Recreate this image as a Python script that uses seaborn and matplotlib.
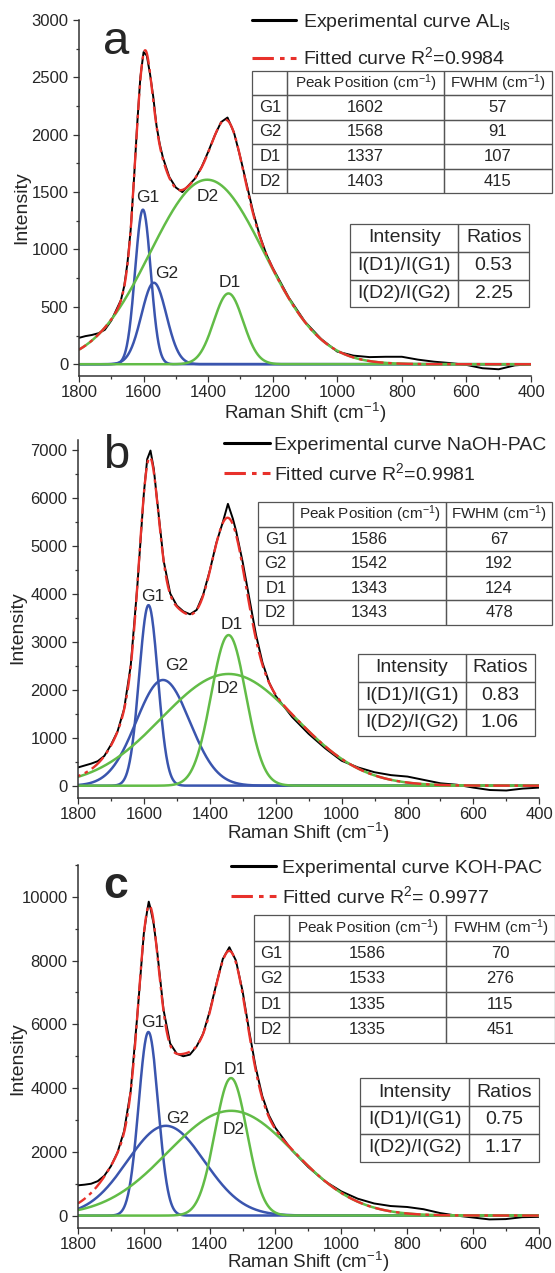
import numpy as np
import seaborn as sns
import matplotlib.pyplot as plt
from matplotlib.lines import Line2D
from matplotlib.ticker import MultipleLocator

W, H = 555, 1273

peak_names = ['G1', 'G2', 'D1', 'D2']
ratio_names = ['I(D1)/I(G1)', 'I(D2)/I(G2)']

# (a) AL_ls
a_shift = [1800, 1780, 1760, 1740, 1720, 1700, 1690, 1680, 1670, 1660, 1650, 1640, 1630, 1620, 1610,
           1600, 1590, 1580, 1570, 1560, 1550, 1540, 1520, 1500, 1480, 1460, 1440, 1420, 1400, 1380,
           1360, 1340, 1320, 1300, 1280, 1260, 1240, 1220, 1200, 1150, 1100, 1050, 1000, 950, 900,
           850, 800, 750, 700, 650, 600, 550, 500, 450, 400]
a_exp = [230, 245, 255, 270, 300, 380, 440, 500, 560, 680, 880, 1170, 1600, 2080, 2500,
         2720, 2690, 2530, 2330, 2080, 1920, 1800, 1630, 1540, 1500, 1560, 1620, 1720, 1850, 1990,
         2110, 2150, 2020, 1800, 1560, 1320, 1120, 960, 840, 580, 370, 220, 110, 75, 62,
         65, 65, 40, 22, 10, -6, -35, -44, -10, 0]
a_pos = [1602, 1568, 1337, 1403]
a_fwhm = [57, 91, 107, 415]
a_height = [1347, 710, 617, 1608]
a_ratios = ['0.53', '2.25']

# (b) NaOH-PAC
b_shift = [1800, 1780, 1760, 1740, 1720, 1700, 1680, 1660, 1640, 1620, 1600, 1590, 1580, 1570, 1560,
           1540, 1520, 1500, 1480, 1460, 1440, 1420, 1400, 1380, 1360, 1345, 1330, 1320, 1300, 1280,
           1260, 1240, 1220, 1200, 1150, 1100, 1050, 1000, 950, 900, 850, 800, 750, 700, 650,
           600, 550, 500, 450, 400]
b_exp = [380, 420, 460, 510, 620, 850, 1130, 1600, 2500, 4150, 6100, 6800, 6980, 6600, 5950,
         4680, 4000, 3750, 3630, 3570, 3660, 3980, 4480, 5060, 5500, 5870, 5560, 5300, 4650, 3900,
         3150, 2560, 2150, 1870, 1430, 1080, 780, 520, 380, 280, 220, 190, 120, 50, 20,
         -40, -90, -100, -60, -40]
b_pos = [1586, 1542, 1343, 1343]
b_fwhm = [67, 192, 124, 478]
b_height = [3760, 2202, 3137, 2327]
b_ratios = ['0.83', '1.06']

# (c) KOH-PAC
c_shift = [1800, 1780, 1760, 1740, 1720, 1700, 1680, 1660, 1640, 1620, 1600, 1590, 1585, 1580, 1570,
           1560, 1540, 1520, 1500, 1480, 1460, 1440, 1420, 1400, 1380, 1360, 1340, 1320, 1300, 1280,
           1260, 1240, 1220, 1200, 1150, 1100, 1050, 1000, 950, 900, 850, 800, 750, 700, 650,
           600, 550, 500, 450, 400]
c_exp = [950, 970, 1000, 1080, 1250, 1550, 1980, 2650, 3900, 6250, 8850, 9550, 9850, 9650, 9150,
         8350, 6450, 5400, 5080, 5000, 5050, 5300, 5700, 6400, 7250, 8050, 8420, 8000, 7050, 5800,
         4650, 3750, 3150, 2750, 2050, 1520, 1080, 760, 530, 380, 300, 270, 200, 80, 0,
         -60, -120, -110, -50, -40]
c_pos = [1586, 1533, 1335, 1335]
c_fwhm = [70, 276, 115, 451]
c_height = [5760, 2817, 4315, 3288]
c_ratios = ['0.75', '1.17']

BLUE = '#3A55AE'
GREEN = '#62BC47'
RED = '#E8312B'
DASHDOT = (0, (7, 2, 1.5, 2))
EDGE = '#555555'


def gauss(x, pos, fwhm, height):
    sigma = fwhm / (2 * np.sqrt(2 * np.log(2)))
    return height * np.exp(-0.5 * ((x - pos) / sigma) ** 2)


def to_axes(box, x0, x1, y0, y1):
    # pixel rectangle -> [left, bottom, width, height] in axes fraction
    l, r, t, b = box
    return [(x0 - l) / (r - l), (b - y1) / (b - t), (x1 - x0) / (r - l), (y1 - y0) / (b - t)]


def add_table(ax, box, cells, xs, ys, fontsize, header_size=None):
    bbox = to_axes(box, xs[0], xs[-1], ys[0], ys[-1])
    widths = np.diff(xs) / (xs[-1] - xs[0])
    tbl = ax.table(cellText=cells, colWidths=list(widths), cellLoc='center', bbox=bbox)
    tbl.auto_set_font_size(False)
    tbl.set_fontsize(fontsize)
    for (row, col), cell in tbl.get_celld().items():
        cell.set_edgecolor(EDGE)
        cell.set_linewidth(0.9)
        cell.set_facecolor('none')
        if row == 0 and header_size:
            cell.get_text().set_fontsize(header_size)
    return tbl


def draw_panel(ax, shift, exp, pos, fwhm, height, ylim, ystep, label_xy):
    grid = np.arange(400, 1801, 1.0)
    comps = [gauss(grid, p, f, h) for p, f, h in zip(pos, fwhm, height)]
    fit = np.sum(comps, axis=0)
    sns.lineplot(x=shift, y=exp, ax=ax, color='black', lw=1.4, estimator=None)
    for comp, name in zip(comps, peak_names):
        color = BLUE if name.startswith('G') else GREEN
        sns.lineplot(x=grid, y=comp, ax=ax, color=color, lw=1.8, estimator=None)
    sns.lineplot(x=grid, y=fit, ax=ax, color=RED, lw=1.7, linestyle=DASHDOT, estimator=None)
    for name, (lx, ly) in zip(peak_names, label_xy):
        ax.text(lx, ly, name, fontsize=12.5, ha='center', va='center')

    ax.set_xlim(1800, 400)
    ax.set_ylim(*ylim)
    ax.xaxis.set_major_locator(MultipleLocator(200))
    ax.xaxis.set_minor_locator(MultipleLocator(100))
    ax.yaxis.set_major_locator(MultipleLocator(ystep))
    ax.yaxis.set_minor_locator(MultipleLocator(ystep / 2))
    ax.tick_params(which='major', direction='out', length=4.5, width=0.9, color='#333333', labelsize=12)
    ax.tick_params(which='minor', direction='out', length=2.5, width=0.9, color='#333333')
    ax.tick_params(axis='x', pad=2)
    ax.tick_params(axis='y', pad=3)
    sns.despine(ax=ax)
    for s in ['left', 'bottom']:
        ax.spines[s].set_color('#333333')
        ax.spines[s].set_linewidth(1.1)
    ax.set_xlabel('Raman Shift (cm$^{-1}$)', fontsize=13.5)
    ax.set_ylabel('Intensity', fontsize=14)


sns.set_theme(style='ticks')
plt.rcParams['font.family'] = ['Liberation Sans', 'DejaVu Sans']
plt.rcParams['mathtext.fontset'] = 'custom'
plt.rcParams['mathtext.rm'] = 'Liberation Sans'
plt.rcParams['mathtext.it'] = 'Liberation Sans:italic'
plt.rcParams['mathtext.bf'] = 'Liberation Sans:bold'

fig = plt.figure(figsize=(W / 100, H / 100), dpi=100)

panels = [
    # box (l, r, t, b) in px, data, axis range, peak labels, legend, tables, letter
    dict(box=(79, 531, 20, 375.7), shift=a_shift, exp=a_exp, pos=a_pos, fwhm=a_fwhm, height=a_height,
         ratios=a_ratios, ylim=(-100, 3000), ystep=500,
         labels=[(1586, 1450), (1527, 792), (1332, 713), (1400, 1459)],
         exp_lab='Experimental curve AL$_{\\rm ls}$', fit_lab='Fitted curve R$^2$=0.9984',
         leg=(252, 12, 2.24, 0.37, 0.7),
         ptab=([252.4, 287.4, 443.5, 552], [70.7, 96, 120, 144.7, 169, 193.3]),
         rtab=([350, 458.4, 529], [224, 251.7, 279.3, 307.3]),
         ylab=(30, 207.5), xlab=401,
         letter=('a', 116, 41.5, 'normal')),
    dict(box=(78, 539.3, 440, 797.7), shift=b_shift, exp=b_exp, pos=b_pos, fwhm=b_fwhm, height=b_height,
         ratios=b_ratios, ylim=(-250, 7200), ystep=1000,
         labels=[(1572, 3932), (1500, 2513), (1333, 3359), (1345, 2030)],
         exp_lab='Experimental curve NaOH-PAC', fit_lab='Fitted curve R$^2$=0.9981',
         leg=(224, 436, 2.37, 0.22, 0.45),
         ptab=([258.3, 293.3, 445.7, 552.3], [502.3, 527.3, 552.3, 577.3, 601, 625]),
         rtab=([358, 465.5, 534.5], [654.3, 681.7, 709, 736]),
         ylab=(26.5, 627.5), xlab=821,
         letter=('b', 116.5, 456, 'normal')),
    dict(box=(78, 538.7, 865, 1227.7), shift=c_shift, exp=c_exp, pos=c_pos, fwhm=c_fwhm, height=c_height,
         ratios=c_ratios, ylim=(-380, 11000), ystep=2000,
         labels=[(1572, 6043), (1496, 3059), (1323, 4598), (1327, 2692)],
         exp_lab='Experimental curve KOH-PAC', fit_lab='Fitted curve R$^2$= 0.9977',
         leg=(230.8, 859, 2.3, 0.31, 0.45),
         ptab=([254, 289.2, 446, 555], [915, 941, 966.3, 991.7, 1017, 1042.7]),
         rtab=([360.4, 469, 538.8], [1078.3, 1106.7, 1134, 1161.7]),
         ylab=(26.5, 1058.3), xlab=1250,
         letter=('c', 115.5, 886, 'bold')),
]

for p in panels:
    l, r, t, b = p['box']
    ax = fig.add_axes([l / W, 1 - b / H, (r - l) / W, (b - t) / H])
    ax.set_facecolor('none')
    draw_panel(ax, p['shift'], p['exp'], p['pos'], p['fwhm'], p['height'],
               p['ylim'], p['ystep'], p['labels'])

    ax.yaxis.set_label_coords((p['ylab'][0] - l) / (r - l), (b - p['ylab'][1]) / (b - t))
    ax.xaxis.set_label_coords(0.5, (b - p['xlab']) / (b - t))

    lx, ly, hl, hp, ls = p['leg']
    handles = [Line2D([], [], color='black', lw=2.2),
               Line2D([], [], color=RED, lw=2.2, linestyle=DASHDOT)]
    ax.legend(handles, [p['exp_lab'], p['fit_lab']], loc='upper left',
              bbox_to_anchor=((lx - l) / (r - l), (b - ly) / (b - t)),
              frameon=False, fontsize=14, borderpad=0, borderaxespad=0,
              handlelength=hl, handletextpad=hp, labelspacing=ls)

    peak_cells = [['', 'Peak Position (cm$^{-1}$)', 'FWHM (cm$^{-1}$)']]
    for name, pos, fwhm in zip(peak_names, p['pos'], p['fwhm']):
        peak_cells.append([name, str(pos), str(fwhm)])
    add_table(ax, p['box'], peak_cells, np.array(p['ptab'][0]), p['ptab'][1], 12, header_size=11)

    ratio_cells = [['Intensity', 'Ratios']] + [[n, v] for n, v in zip(ratio_names, p['ratios'])]
    add_table(ax, p['box'], ratio_cells, np.array(p['rtab'][0]), p['rtab'][1], 14)

    txt, tx, ty, weight = p['letter']
    fig.text(tx / W, 1 - ty / H, txt, fontsize=34 if weight == 'normal' else 32,
             fontweight=weight, ha='center', va='center')

fig.savefig('out.png', dpi=100)
